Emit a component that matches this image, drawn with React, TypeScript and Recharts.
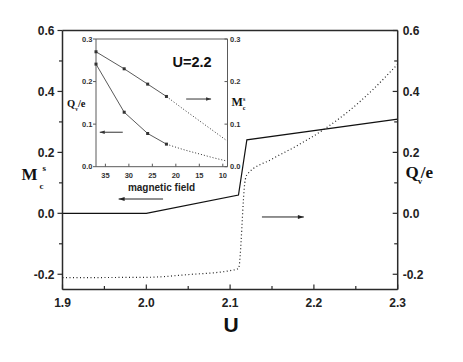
import React from "react";
import { LineChart, Line, XAxis, YAxis, ReferenceLine } from "recharts";

// main panel: M_c^s (solid, left axis) and Q_v/e (dotted, right axis) against U
const mcsU = [1.9, 2.0, 2.11, 2.12, 2.3];
const mcsValues = [0, 0, 0.06, 0.241, 0.309];
const qvU = [1.9, 2.0, 2.05, 2.1, 2.11, 2.118, 2.12, 2.15, 2.18, 2.21, 2.24, 2.27, 2.3];
const qvValues = [-0.211, -0.21, -0.201, -0.188, -0.181, 0.109, 0.126, 0.178, 0.222, 0.272, 0.332, 0.405, 0.49];
const uTicks = [1.9, 1.95, 2.0, 2.05, 2.1, 2.15, 2.2, 2.25, 2.3];
const mainYTicks = [-0.2, -0.1, 0, 0.1, 0.2, 0.3, 0.4, 0.5, 0.6];

// inset: U=2.2, against magnetic field
const fieldSolid = [37, 31, 26, 22];
const insetMcsSolid = [0.27, 0.23, 0.194, 0.165];
const insetQvSolid = [0.241, 0.128, 0.078, 0.053];
const fieldDotted = [22, 18, 15, 12, 9];
const insetMcsDotted = [0.165, 0.132, 0.108, 0.084, 0.06];
const insetQvDotted = [0.053, 0.039, 0.03, 0.021, 0.013];
const fieldTicks = [35, 30, 25, 20, 15, 10];
const insetYTicks = [0, 0.1, 0.2, 0.3];

const mcsData = mcsU.map((u, i) => ({ u, v: mcsValues[i] }));
const qvData = qvU.map((u, i) => ({ u, v: qvValues[i] }));
const insetMcsData = fieldSolid.map((f, i) => ({ f, v: insetMcsSolid[i] }));
const insetQvData = fieldSolid.map((f, i) => ({ f, v: insetQvSolid[i] }));
const insetMcsDotData = fieldDotted.map((f, i) => ({ f, v: insetMcsDotted[i] }));
const insetQvDotData = fieldDotted.map((f, i) => ({ f, v: insetQvDotted[i] }));

const sans = "'Liberation Sans', Arial, sans-serif";
const serif = "'Liberation Serif', 'Times New Roman', serif";
const axisColor = "#2a2a2a";
const insetColor = "#5a5a5a";

const isMajorX = (v: number) => Math.abs(v * 10 - Math.round(v * 10)) < 1e-6;
const isMajorY = (v: number) => Math.round(v * 10) % 2 === 0;

function MainBottomTick(props: any) {
  const { x, y, payload } = props;
  const major = isMajorX(payload.value);
  return (
    <g>
      <line x1={x} x2={x} y1={y} y2={y - (major ? 5 : 3.5)} stroke={axisColor} strokeWidth={1.2} />
      {major && (
        <text x={x} y={y + 17.5} textAnchor="middle" fontFamily={sans} fontWeight="bold" fontSize={12} fill="#222">
          {payload.value.toFixed(1)}
        </text>
      )}
    </g>
  );
}

function MainLeftTick(props: any) {
  const { x, y, payload } = props;
  const major = isMajorY(payload.value);
  return (
    <g>
      <line x1={x} x2={x - (major ? 5 : 3.5)} y1={y} y2={y} stroke={axisColor} strokeWidth={1.2} />
      {major && (
        <text x={x - 8} y={y + 4.3} textAnchor="end" fontFamily={sans} fontWeight="bold" fontSize={12} fill="#222">
          {payload.value.toFixed(1)}
        </text>
      )}
    </g>
  );
}

function MainRightTick(props: any) {
  const { x, y, payload } = props;
  const major = isMajorY(payload.value);
  return (
    <g>
      <line x1={x} x2={x - (major ? 5 : 3.5)} y1={y} y2={y} stroke={axisColor} strokeWidth={1.2} />
      {major && (
        <text x={x + 5} y={y + 4.3} textAnchor="start" fontFamily={sans} fontWeight="bold" fontSize={12} fill="#222">
          {payload.value.toFixed(1)}
        </text>
      )}
    </g>
  );
}

function InsetBottomTick(props: any) {
  const { x, y, payload } = props;
  return (
    <g>
      <line x1={x} x2={x} y1={y} y2={y - 3} stroke={insetColor} />
      <text x={x} y={y + 11} textAnchor="middle" fontFamily={sans} fontWeight="bold" fontSize={7.5} fill="#333">
        {payload.value}
      </text>
    </g>
  );
}

function InsetLeftTick(props: any) {
  const { x, y, payload } = props;
  return (
    <g>
      <line x1={x} x2={x - 3} y1={y} y2={y} stroke={insetColor} />
      <text x={x - 3.5} y={y + 2.7} textAnchor="end" fontFamily={sans} fontWeight="bold" fontSize={7.5} fill="#333">
        {payload.value.toFixed(1)}
      </text>
    </g>
  );
}

function InsetRightTick(props: any) {
  const { x, y, payload } = props;
  return (
    <g>
      <line x1={x} x2={x - 3} y1={y} y2={y} stroke={insetColor} />
      <text x={x + 2.5} y={y + 2.7} textAnchor="start" fontFamily={sans} fontWeight="bold" fontSize={7.5} fill="#333">
        {payload.value.toFixed(1)}
      </text>
    </g>
  );
}

const arrow = (dir: "left" | "right", color: string, head: number) => (props: any) => {
  const { x1, y1, x2, y2 } = props;
  const tip = dir === "left" ? Math.min(x1, x2) : Math.max(x1, x2);
  const s = dir === "left" ? 1 : -1;
  return (
    <g>
      <line x1={x1} y1={y1} x2={x2} y2={y2} stroke={color} strokeWidth={1} />
      <path
        d={`M${tip},${y1} L${tip + s * head},${y1 - head / 3} L${tip + s * head},${y1 + head / 3} Z`}
        fill={color}
      />
    </g>
  );
};

const squareDot = (props: any) => (
  <rect key={props.index} x={props.cx - 1.5} y={props.cy - 1.5} width={3} height={3} fill="#333" />
);

function Inset() {
  return (
    <LineChart width={194.5} height={170} margin={{ top: 9, right: 5, bottom: 19.3, left: 0 }}>
      <XAxis
        dataKey="f"
        type="number"
        domain={[9, 37]}
        reversed
        ticks={fieldTicks}
        interval={0}
        height={14}
        tickSize={0}
        tickMargin={0}
        tickLine={false}
        tick={InsetBottomTick}
        stroke={insetColor}
        allowDuplicatedCategory={false}
      />
      <YAxis
        yAxisId="left"
        type="number"
        domain={[0, 0.3]}
        ticks={insetYTicks}
        interval={0}
        width={30}
        tickSize={0}
        tickMargin={0}
        tickLine={false}
        tick={InsetLeftTick}
        stroke={insetColor}
      />
      <YAxis
        yAxisId="right"
        orientation="right"
        type="number"
        domain={[0, 0.3]}
        ticks={insetYTicks}
        interval={0}
        width={28}
        tickSize={0}
        tickMargin={0}
        tickLine={false}
        tick={InsetRightTick}
        stroke={insetColor}
      />
      <ReferenceLine yAxisId="left" y={0.3} stroke={insetColor} ifOverflow="visible" />
      <Line
        yAxisId="right"
        data={insetMcsData}
        dataKey="v"
        type="linear"
        stroke={insetColor}
        strokeWidth={1}
        dot={squareDot}
        isAnimationActive={false}
      />
      <Line
        yAxisId="right"
        data={insetMcsDotData}
        dataKey="v"
        type="monotone"
        stroke="#333"
        strokeWidth={1}
        strokeDasharray="1 2"
        dot={false}
        isAnimationActive={false}
      />
      <Line
        yAxisId="left"
        data={insetQvData}
        dataKey="v"
        type="linear"
        stroke={insetColor}
        strokeWidth={1}
        dot={squareDot}
        isAnimationActive={false}
      />
      <Line
        yAxisId="left"
        data={insetQvDotData}
        dataKey="v"
        type="monotone"
        stroke="#333"
        strokeWidth={1}
        strokeDasharray="1 2"
        dot={false}
        isAnimationActive={false}
      />
      <ReferenceLine
        yAxisId="left"
        segment={[{ x: 36.2, y: 0.081 }, { x: 31.3, y: 0.081 }]}
        shape={arrow("left", "#333", 5)}
        ifOverflow="visible"
      />
      <ReferenceLine
        yAxisId="left"
        segment={[{ x: 17.8, y: 0.159 }, { x: 12.5, y: 0.159 }]}
        shape={arrow("right", "#333", 5)}
        ifOverflow="visible"
      />
      <text x={106.5} y={36.5} fontFamily={sans} fontWeight="bold" fontSize={14.5} fill="#111">
        U=2.2
      </text>
      <text x={95.5} y={161} textAnchor="middle" fontFamily={sans} fontWeight="bold" fontSize={10} fill="#222">
        magnetic field
      </text>
      <text x={1} y={77} fontFamily={serif} fontWeight="bold" fontSize={10.5} fill="#111">
        Q
        <tspan dy={3.5} fontSize={5.5}>v</tspan>
        <tspan dy={-3.5}>/e</tspan>
      </text>
      <text x={165.5} y={76} fontFamily={serif} fontWeight="bold" fontSize={12} fill="#111">
        M
        <tspan dy={4} fontSize={6}>c</tspan>
        <tspan dx={-2.5} dy={-9} fontSize={6}>s</tspan>
      </text>
    </LineChart>
  );
}

export default function App() {
  return (
    <div style={{ position: "absolute", left: 0, top: 0, width: 463, height: 362, background: "#fff" }}>
      <LineChart width={463} height={362} margin={{ top: 30.5, right: 15.3, bottom: 42.5, left: 12.5 }}>
        <XAxis
          dataKey="u"
          type="number"
          domain={[1.9, 2.3]}
          ticks={uTicks}
          interval={0}
          height={30}
          tickSize={0}
          tickMargin={0}
          tickLine={false}
          tick={MainBottomTick}
          stroke={axisColor}
          strokeWidth={1.5}
          allowDuplicatedCategory={false}
        />
        <YAxis
          yAxisId="left"
          type="number"
          domain={[-0.25, 0.6]}
          ticks={mainYTicks}
          interval={0}
          width={50}
          tickSize={0}
          tickMargin={0}
          tickLine={false}
          tick={MainLeftTick}
          stroke={axisColor}
          strokeWidth={1.5}
        />
        <YAxis
          yAxisId="right"
          orientation="right"
          type="number"
          domain={[-0.25, 0.6]}
          ticks={mainYTicks}
          interval={0}
          width={50}
          tickSize={0}
          tickMargin={0}
          tickLine={false}
          tick={MainRightTick}
          stroke={axisColor}
          strokeWidth={1.5}
        />
        <ReferenceLine yAxisId="left" y={0.6} stroke={axisColor} strokeWidth={1.5} ifOverflow="visible" />
        <Line
          yAxisId="left"
          data={mcsData}
          dataKey="v"
          type="linear"
          stroke="#111"
          strokeWidth={1.2}
          dot={false}
          isAnimationActive={false}
        />
        <Line
          yAxisId="right"
          data={qvData}
          dataKey="v"
          type="monotone"
          stroke="#222"
          strokeWidth={1.2}
          strokeDasharray="1 2.5"
          dot={false}
          isAnimationActive={false}
        />
        <ReferenceLine
          yAxisId="left"
          segment={[{ x: 1.967, y: 0.047 }, { x: 2.02, y: 0.047 }]}
          shape={arrow("left", "#222", 6)}
          ifOverflow="visible"
        />
        <ReferenceLine
          yAxisId="right"
          segment={[{ x: 2.138, y: -0.012 }, { x: 2.188, y: -0.012 }]}
          shape={arrow("right", "#222", 6)}
          ifOverflow="visible"
        />
        <text x={231} y={332} textAnchor="middle" fontFamily={sans} fontWeight="bold" fontSize={21} fill="#111">
          U
        </text>
        <text x={21.5} y={180} fontFamily={serif} fontWeight="bold" fontSize={17} fill="#111">
          M
          <tspan dx={2} dy={9} fontSize={9}>c</tspan>
          <tspan dx={-1} dy={-18} fontSize={9}>s</tspan>
        </text>
        <text x={405.5} y={178} fontFamily={serif} fontWeight="bold" fontSize={17} fill="#111">
          Q
          <tspan dx={-1} dy={6} fontSize={9}>v</tspan>
          <tspan dx={-1.5} dy={-6}>/e</tspan>
        </text>
      </LineChart>
      <div style={{ position: "absolute", left: 65.5, top: 30 }}>
        <Inset />
      </div>
    </div>
  );
}
